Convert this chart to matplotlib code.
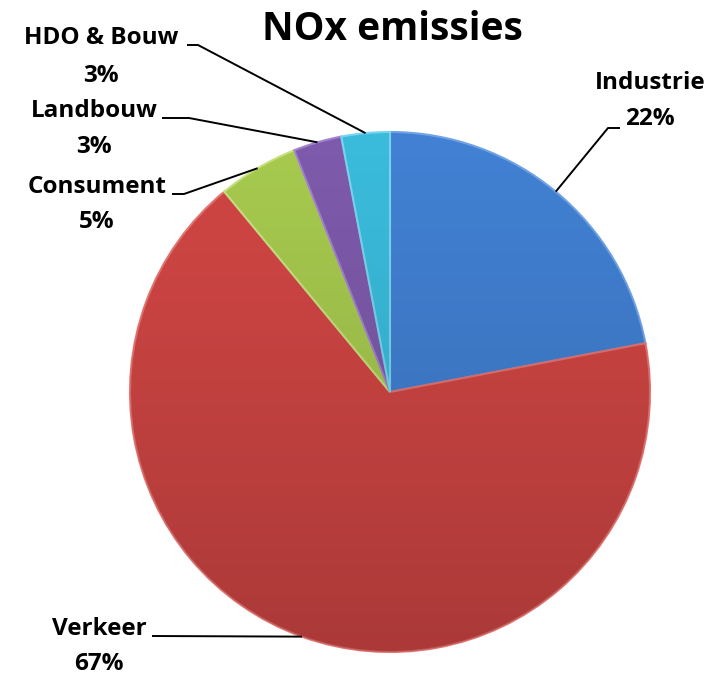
import numpy as np
import matplotlib
matplotlib.use("Agg")
import matplotlib.pyplot as plt
from matplotlib.patches import Circle

# Data
categories = ["Industrie", "Verkeer", "Consument", "Landbouw", "HDO & Bouw"]
values = [22, 67, 5, 3, 3]
pct_labels = ["22%", "67%", "5%", "3%", "3%"]
colors = ["#4180d2", "#d04644", "#a6c94e", "#7d5aab", "#3abbdb"]
edge_colors = ["#6fa2e4", "#e47370", "#c6e07f", "#a282cc", "#78d4ec"]

W, H = 710, 679
fig = plt.figure(figsize=(W / 100, H / 100), dpi=100)
ax = fig.add_axes([0, 0, 1, 1])

cx, cy, R = 390, H - 392, 260

wedges, _ = ax.pie(values, colors=colors, startangle=90, counterclock=False,
                   center=(cx, cy), radius=R, frame=True,
                   wedgeprops=dict(linewidth=1.5))
for w, ec in zip(wedges, edge_colors):
    w.set_edgecolor(ec)

# subtle vertical shading (darker towards the bottom)
grad = np.linspace(0, 1, 256)
shade = np.zeros((256, 1, 4))
shade[:, 0, 3] = (grad ** 1.2) * 0.18
im = ax.imshow(shade[::-1], extent=(cx - R, cx + R, cy - R, cy + R),
               origin="lower", aspect="auto", zorder=3, interpolation="bilinear")
clip = Circle((cx, cy), R, transform=ax.transData)
im.set_clip_path(clip)

ax.set_xlim(0, W)
ax.set_ylim(0, H)
ax.set_aspect("equal")
ax.axis("off")

font = "Open Sans"
fs = 17.5

ax.text(392, H - 30, "NOx emissies", ha="center", va="center",
        fontsize=28, fontweight="bold", family=font)

# label layout: (name x, name y, pct y, line start x, elbow x, line y)
layout = {
    "Industrie": (650, 83, 119, 620, 608, 128),
    "Verkeer": (99, 629, 664, 152, None, 636),
    "Consument": (97, 187, 222, 172, 184, 194),
    "Landbouw": (94, 111, 147, 162, 189, 118),
    "HDO & Bouw": (101, 38, 76, 187, 198, 45),
}

for w, name, pct in zip(wedges, categories, pct_labels):
    ang = np.deg2rad((w.theta1 + w.theta2) / 2)
    ex = cx + R * np.cos(ang)
    ey = cy + R * np.sin(ang)
    nx, ny, py, sx, elx, ly = layout[name]
    ax.text(nx, H - ny, name, ha="center", va="center", fontsize=fs,
            fontweight="bold", family=font, zorder=5)
    ax.text(nx, H - py, pct, ha="center", va="center", fontsize=fs,
            fontweight="bold", family=font, zorder=5)
    if elx is None:
        xs = [sx, ex]
        ys = [H - ly, ey]
    else:
        xs = [sx, elx, ex]
        ys = [H - ly, H - ly, ey]
    ax.plot(xs, ys, color="black", linewidth=1.4, solid_capstyle="butt", zorder=5)

fig.savefig("out.png", dpi=100, facecolor="white")
